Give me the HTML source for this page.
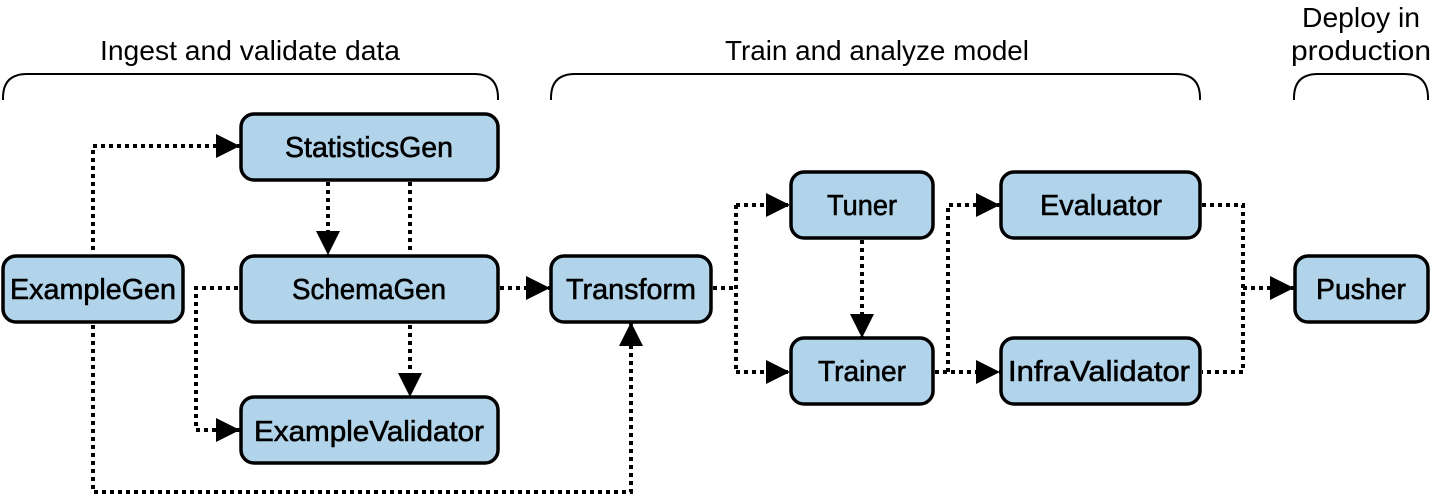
<!DOCTYPE html>
<html><head><meta charset="utf-8"><style>
html,body{margin:0;padding:0;background:#fff;}
svg{display:block;}
text{font-family:"Liberation Sans",sans-serif;fill:#000;}
</style></head><body>
<svg width="1432" height="496" viewBox="0 0 1432 496" xmlns="http://www.w3.org/2000/svg">
<defs>
<marker id="a" viewBox="0 0 10 10" refX="10" refY="5" markerWidth="24" markerHeight="24" markerUnits="userSpaceOnUse" orient="auto">
<path d="M0,0 L10,5 L0,10 z" fill="#000"/>
</marker>
</defs>
<g font-size="28">
<text x="250" y="60" text-anchor="middle" textLength="300" lengthAdjust="spacingAndGlyphs">Ingest and validate data</text>
<text x="877" y="60" textLength="304" lengthAdjust="spacingAndGlyphs" text-anchor="middle">Train and analyze model</text>
<text x="1361" y="27" text-anchor="middle" textLength="118" lengthAdjust="spacingAndGlyphs">Deploy in</text>
<text x="1361" y="60" text-anchor="middle" textLength="140" lengthAdjust="spacingAndGlyphs">production</text>
</g>
<g fill="none" stroke="#000" stroke-width="2">
<path d="M3,100 V98 Q3,74 27,74 H474 Q498,74 498,98 V100"/>
<path d="M551,100 V98 Q551,74 575,74 H1176 Q1200,74 1200,98 V100"/>
<path d="M1294,100 V98 Q1294,74 1318,74 H1404 Q1428,74 1428,98 V100"/>
</g>
<g fill="none" stroke="#000" stroke-width="4" stroke-dasharray="4 4">
<path d="M93,250 V146 H240" marker-end="url(#a)"/>
<path d="M328,182 V255" marker-end="url(#a)"/>
<path d="M410,182 V252"/>
<path d="M410,325 V397" marker-end="url(#a)"/>
<path d="M238,288 H196 V430 H240" marker-end="url(#a)"/>
<path d="M93,325 V492 H631 V322" marker-end="url(#a)"/>
<path d="M500,288 H550" marker-end="url(#a)"/>
<path d="M713,288 H736"/>
<path d="M736,205 V372"/>
<path d="M736,205 H790" marker-end="url(#a)"/>
<path d="M736,372 H790" marker-end="url(#a)"/>
<path d="M862,240 V338" marker-end="url(#a)"/>
<path d="M935,372 H1000" marker-end="url(#a)"/>
<path d="M948,372 V205 H1000" marker-end="url(#a)"/>
<path d="M1202,205 H1243 V372 H1202"/>
<path d="M1243,288 H1294" marker-end="url(#a)"/>
</g>
<g fill="#b1d4ea" stroke="#000" stroke-width="3.5">
<rect x="241" y="114" width="257" height="66" rx="13"/>
<rect x="241" y="256" width="257" height="66" rx="13"/>
<rect x="241" y="397" width="257" height="66" rx="13"/>
<rect x="3" y="256" width="180" height="66" rx="13"/>
<rect x="551" y="256" width="160" height="66" rx="13"/>
<rect x="791" y="172" width="142" height="66" rx="13"/>
<rect x="791" y="338" width="142" height="66" rx="13"/>
<rect x="1001" y="172" width="199" height="66" rx="13"/>
<rect x="1001" y="338" width="199" height="66" rx="13"/>
<rect x="1295" y="256" width="133" height="66" rx="13"/>
</g>
<g font-size="29" text-anchor="middle" stroke="#000" stroke-width="0.6">
<text x="369" y="157" textLength="168" lengthAdjust="spacingAndGlyphs">StatisticsGen</text>
<text x="369" y="299" textLength="154" lengthAdjust="spacingAndGlyphs">SchemaGen</text>
<text x="369" y="441" textLength="230" lengthAdjust="spacingAndGlyphs">ExampleValidator</text>
<text x="93" y="299" textLength="166" lengthAdjust="spacingAndGlyphs">ExampleGen</text>
<text x="631" y="299" textLength="130" lengthAdjust="spacingAndGlyphs">Transform</text>
<text x="862" y="215" textLength="70" lengthAdjust="spacingAndGlyphs">Tuner</text>
<text x="862" y="381" textLength="88" lengthAdjust="spacingAndGlyphs">Trainer</text>
<text x="1101" y="215" textLength="122" lengthAdjust="spacingAndGlyphs">Evaluator</text>
<text x="1099" y="381" textLength="182" lengthAdjust="spacingAndGlyphs">InfraValidator</text>
<text x="1361" y="299" textLength="90" lengthAdjust="spacingAndGlyphs">Pusher</text>
</g>
</svg>
</body></html>
